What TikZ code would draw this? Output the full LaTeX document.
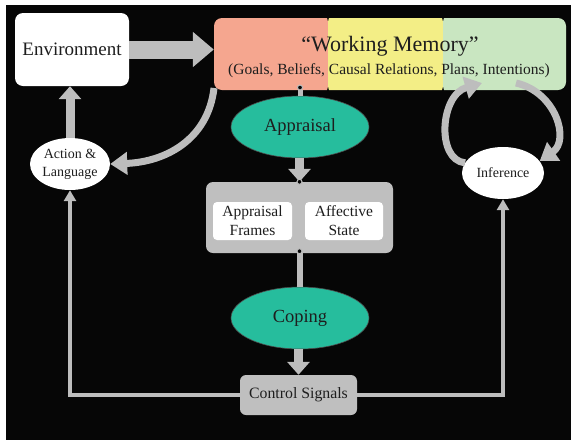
\documentclass[tikz,border=0pt]{standalone}
\usepackage{fontspec}
\setmainfont{Liberation Serif}
\usepackage{tikz}
\usetikzlibrary{shapes.geometric, arrows.meta}
\definecolor{bgColor}{HTML}{060606}
\definecolor{arrowGray}{HTML}{BDBDBD}
\definecolor{boxGray}{HTML}{BFBFBF}
\definecolor{tealColor}{HTML}{26BD9D}
\definecolor{wmSalmon}{HTML}{F5A68F}
\definecolor{wmYellow}{HTML}{F3EE86}
\definecolor{wmGreen}{HTML}{C9E6C1}
\definecolor{textColor}{HTML}{1E1E1E}

\tikzset{
    whitebox/.style={rectangle, rounded corners=8pt, fill=white, text=textColor, inner sep=0pt},
    graybox/.style={rectangle, rounded corners=7pt, fill=boxGray, text=textColor, inner sep=0pt},
    innerbox/.style={rectangle, rounded corners=4pt, fill=white, text=textColor, inner sep=0pt,
        minimum height=38pt, align=center, font=\fontsize{15.5}{19}\selectfont},
    tealell/.style={ellipse, fill=tealColor, draw=black!70, line width=0.6pt, text=textColor,
        minimum width=138pt, minimum height=62pt, inner sep=0pt, font=\fontsize{18.5}{22}\selectfont},
    whiteell/.style={ellipse, fill=white, text=textColor, inner sep=0pt, align=center,
        font=\fontsize{14}{18}\selectfont},
    smalldot/.style={circle, draw=arrowGray, fill=bgColor, line width=1pt, minimum size=5pt, inner sep=0pt},
    fatarrow/.style={draw=arrowGray, line width=18pt, -{Triangle[length=21pt,width=34pt]}},
    midarrow/.style={draw=arrowGray, line width=9pt, -{Triangle[length=13pt,width=22pt]}},
    thinarrow/.style={draw=arrowGray, line width=4pt, -{Triangle[length=11pt,width=12pt]}},
    curvearrow/.style={draw=arrowGray, line width=7pt, -{Triangle[length=17pt,width=22pt]}},
    stub/.style={draw=arrowGray, line width=5pt}
}

\begin{document}
\begin{tikzpicture}[x=1pt, y=-1pt]
    \useasboundingbox (0,0) rectangle (571,440);
    \fill[white] (0,0) rectangle (571,440);
    \fill[bgColor] (6,5) rectangle (571,440);

    % top row
    \node[whitebox, minimum width=114pt, minimum height=73pt,
        font=\fontsize{19}{22}\selectfont] (env) at (72,49.5) {Environment};
    \node[rectangle, rounded corners=8pt, minimum width=352pt, minimum height=72pt, inner sep=0pt,
        path picture={
            \fill[wmSalmon] (-180,-40) rectangle (-62,40);
            \fill[wmYellow] (-62,-40) rectangle (53,40);
            \fill[wmGreen] (53,-40) rectangle (180,40);
        }] (wm) at (390,54) {};
    \node[text=textColor, font=\fontsize{22}{26}\selectfont] at (390,46) {“Working Memory”};
    \node[text=textColor, font=\fontsize{15.5}{18}\selectfont] at (389,71)
        {(Goals, Beliefs, Causal Relations, Plans, Intentions)};

    % middle column
    \node[tealell] (appr) at (300,127) {Appraisal};
    \node[graybox, minimum width=187pt, minimum height=71pt] (state) at (299.5,217.5) {};
    \node[innerbox, minimum width=79pt] (frames) at (252.5,221) {Appraisal\\Frames};
    \node[innerbox, minimum width=78pt] (affect) at (344,221) {Affective\\State};
    \node[tealell] (cope) at (300,318) {Coping};
    \node[graybox, rounded corners=6pt, minimum width=117pt, minimum height=40pt,
        font=\fontsize{15.8}{18}\selectfont] (ctrl) at (298.5,395) {Control Signals};

    % side nodes
    \node[whiteell, minimum width=80pt, minimum height=52pt] (act) at (70,164) {Action \&\\Language};
    \node[whiteell, minimum width=82pt, minimum height=52pt] (inf) at (503,173) {Inference};

    % connectors
    \draw[fatarrow] (env.east) -- (env.east -| wm.west);
    \coordinate (wmtap) at (300,90);
    \draw[stub] (wmtap) -- (appr.north);
    \node[smalldot] at (300,87.5) {};
    \draw[midarrow] (appr.south -| state.north) -- (state.north);
    \node[smalldot] at (state.north) {};
    \draw[stub, line width=6pt] (state.south) -- (state.south |- cope.north);
    \node[smalldot] at ([yshift=2pt]state.south) {};
    \draw[midarrow] (cope.south -| ctrl.north) -- (ctrl.north);

    \draw[thinarrow] (ctrl.west) -| (act.south);
    \draw[thinarrow] (ctrl.east) -| (inf.south);
    \draw[midarrow] (act.north) -- (act.north |- env.south);

    \coordinate (wmleft) at (214,88);
    \draw[curvearrow] (wmleft) .. controls (208,140) and (165,162) .. (act.east);

    \coordinate (wmin) at (482,83);
    \coordinate (wmout) at (516,83);
    \draw[curvearrow] (inf.165) .. controls (436,160) and (440,95) .. (wmin);
    \draw[curvearrow] (wmout) .. controls (556,92) and (570,140) .. (inf.18);
\end{tikzpicture}
\end{document}
